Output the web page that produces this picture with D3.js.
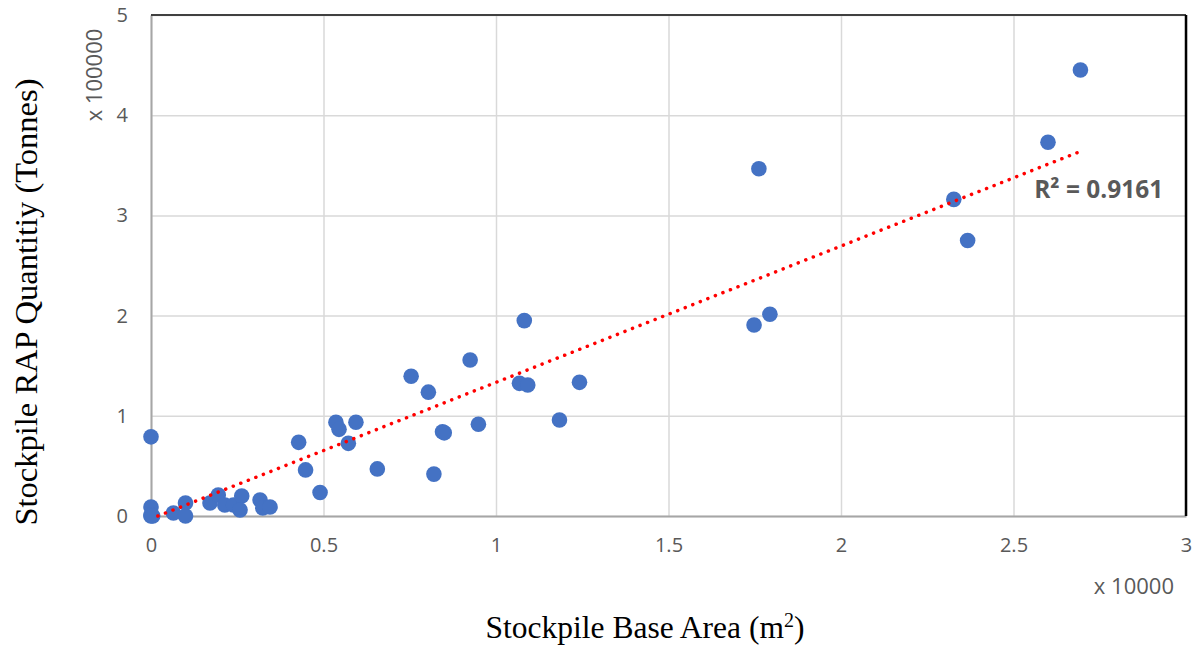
<!DOCTYPE html>
<html>
<head>
<meta charset="utf-8">
<script src="https://cdn.jsdelivr.net/npm/d3@7"></script>
<style>
  body { margin: 0; background: #fff; }
  .tick text { font-family: "Open Sans", sans-serif; fill: #595959; }
</style>
</head>
<body>
<svg id="chart" width="1201" height="649"></svg>
<script>
// stockpile base area (x 10000 m2)
var baseArea = [0, 0, 0, 0, 0.005, 0.065, 0.1, 0.1, 0.171, 0.195, 0.214, 0.239, 0.263, 0.258,
  0.316, 0.324, 0.345, 0.428, 0.448, 0.49, 0.536, 0.545, 0.594, 0.572, 0.656, 0.82, 0.804,
  0.754, 0.845, 0.85, 0.925, 0.949, 1.068, 1.092, 1.082, 1.184, 1.242, 1.748, 1.762, 1.794,
  2.327, 2.367, 2.6, 2.694];
// RAP quantity (x 100000 tonnes)
var rapQty = [0.79, 0.09, 0, 0.01, 0, 0.03, 0.13, 0, 0.13, 0.21, 0.11, 0.11, 0.2, 0.06,
  0.16, 0.08, 0.09, 0.735, 0.46, 0.235, 0.935, 0.865, 0.935, 0.725, 0.47, 0.418, 1.236,
  1.395, 0.84, 0.83, 1.557, 0.915, 1.324, 1.307, 1.95, 0.958, 1.334, 1.906, 3.466, 2.013,
  3.16, 2.75, 3.73, 4.451];

// trendline end points as drawn
var trendX = [0.02, 2.695];
var trendY = [0, 3.64];
var r2Label = "R² = 0.9161";

var xTicks = [0, 0.5, 1, 1.5, 2, 2.5, 3];
var yTicks = [0, 1, 2, 3, 4, 5];

var svg = d3.select("svg"),
  margin = { top: 15, right: 15, bottom: 133, left: 151 };
var width = 1201 - margin.left - margin.right,
  height = 649 - margin.top - margin.bottom;

var g = svg.append("g")
  .attr("transform", "translate(" + margin.left + "," + margin.top + ")");

var x = d3.scaleLinear().domain([0, 3]).range([0, width]);
var y = d3.scaleLinear().domain([0, 5]).range([height, 0]);

// gridlines
g.append("g")
  .attr("class", "grid")
  .call(d3.axisBottom(x).tickValues(xTicks).tickSize(height).tickFormat(""))
  .call(function(s) {
    s.select(".domain").remove();
    s.selectAll("line").attr("stroke", "#d9d9d9").attr("stroke-width", 1.5);
  });
g.append("g")
  .attr("class", "grid")
  .call(d3.axisLeft(y).tickValues(yTicks).tickSize(-width).tickFormat(""))
  .call(function(s) {
    s.select(".domain").remove();
    s.selectAll("line").attr("stroke", "#d9d9d9").attr("stroke-width", 1.5);
  });

// axes
g.append("g")
  .attr("transform", "translate(0," + height + ")")
  .call(d3.axisBottom(x).tickValues(xTicks).tickSize(0).tickPadding(22).tickFormat(d3.format("")))
  .call(function(s) {
    s.select(".domain").attr("stroke", "#a6a6a6").attr("stroke-width", 2);
    s.selectAll("text").style("font-size", "20px");
  });
g.append("g")
  .call(d3.axisLeft(y).tickValues(yTicks).tickSize(0).tickPadding(23).tickFormat(d3.format("")))
  .call(function(s) {
    s.select(".domain").attr("stroke", "#a6a6a6").attr("stroke-width", 2);
    s.selectAll("text").style("font-size", "20px");
  });

// top and right border
g.append("line")
  .attr("x1", 0).attr("x2", width).attr("y1", 0).attr("y2", 0)
  .attr("stroke", "#404040").attr("stroke-width", 2);
g.append("line")
  .attr("x1", width).attr("x2", width).attr("y1", 0).attr("y2", height)
  .attr("stroke", "#000").attr("stroke-width", 2.5);

// points
var pts = baseArea.map(function(d, i) { return { a: d, q: rapQty[i] }; });
g.selectAll(".dot")
  .data(pts)
  .enter()
  .append("circle")
  .attr("class", "dot")
  .attr("cx", function(d) { return x(d.a); })
  .attr("cy", function(d) { return y(d.q); })
  .attr("r", 7.8)
  .attr("fill", "#4472c4");

// trendline
var trend = trendX.map(function(d, i) { return [x(d), y(trendY[i])]; });
g.append("path")
  .attr("d", d3.line()(trend))
  .attr("fill", "none")
  .attr("stroke", "#ff0000")
  .attr("stroke-width", 3.5)
  .attr("stroke-linecap", "round")
  .attr("stroke-dasharray", "0.1 8");

g.append("text")
  .attr("x", x(2.56))
  .attr("y", y(3.18) + 1)
  .attr("font-family", "'Open Sans', sans-serif")
  .attr("font-weight", "bold")
  .attr("font-size", "25px")
  .attr("fill", "#595959")
  .attr("textLength", 129)
  .attr("lengthAdjust", "spacingAndGlyphs")
  .text(r2Label);

// unit labels
svg.append("text")
  .attr("transform", "translate(102,75) rotate(-90)")
  .attr("text-anchor", "middle")
  .attr("font-family", "'Open Sans', sans-serif")
  .attr("font-size", "22px")
  .attr("fill", "#595959")
  .text("x 100000");
svg.append("text")
  .attr("x", 1174)
  .attr("y", 594)
  .attr("text-anchor", "end")
  .attr("font-family", "'Open Sans', sans-serif")
  .attr("font-size", "22px")
  .attr("fill", "#595959")
  .text("x 10000");

// axis titles
var xt = svg.append("text")
  .attr("x", 645)
  .attr("y", 638)
  .attr("text-anchor", "middle")
  .attr("font-family", "'Liberation Serif', 'Times New Roman', serif")
  .attr("font-size", "31.5px")
  .attr("fill", "#000");
xt.append("tspan").text("Stockpile Base Area (m");
xt.append("tspan").attr("dy", -11).attr("font-size", "20px").text("2");
xt.append("tspan").attr("dy", 11).text(")");

svg.append("text")
  .attr("transform", "translate(37,302) rotate(-90)")
  .attr("text-anchor", "middle")
  .attr("font-family", "'Liberation Serif', 'Times New Roman', serif")
  .attr("font-size", "32.5px")
  .attr("fill", "#000")
  .text("Stockpile RAP Quantitiy (Tonnes)");
</script>
</body>
</html>
